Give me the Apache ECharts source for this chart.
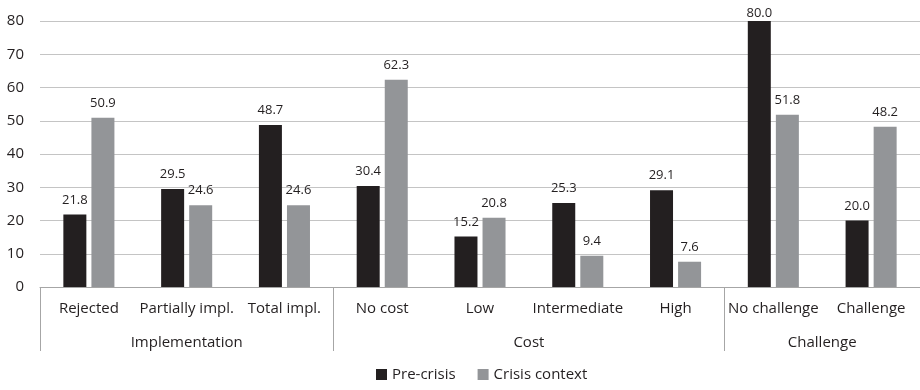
<!DOCTYPE html>
<html>
<head>
<meta charset="utf-8">
<script src="https://cdn.jsdelivr.net/npm/echarts@6/dist/echarts.min.js"></script>
<style>
  html, body { margin: 0; padding: 0; background: #fff; }
  #chart { width: 920px; height: 390px; }
</style>
</head>
<body>
<div id="chart"></div>
<script>
// Sub-categories along the x axis
const categories = ['Rejected', 'Partially impl.', 'Total impl.', 'No cost', 'Low', 'Intermediate', 'High', 'No challenge', 'Challenge'];
// Groups of sub-categories: name, first index, count
const groupNames = ['Implementation', 'Cost', 'Challenge'];
const groupStarts = [0, 3, 7];
const groupSizes = [3, 4, 2];
// Percentages
const preCrisis = [21.8, 29.5, 48.7, 30.4, 15.2, 25.3, 29.1, 80.0, 20.0];
const crisisContext = [50.9, 24.6, 24.6, 62.3, 20.8, 9.4, 7.6, 51.8, 48.2];
// Y axis ticks
const yMin = 0, yMax = 80, yStep = 10;

const FONT = '"Open Sans", "Noto Sans", sans-serif';
const TEXT = '#231f20';

// group boundaries and centres in category units
const boundaries = [0];
const centres = [];
groupStarts.forEach((s, i) => {
  boundaries.push(s + groupSizes[i]);
  centres.push(s + groupSizes[i] / 2);
});

const chart = echarts.init(document.getElementById('chart'), null, { renderer: 'canvas' });

const labelStyle = {
  show: true,
  position: 'top',
  distance: 8,
  color: TEXT,
  fontFamily: FONT,
  fontSize: 13,
  formatter: p => p.value.toFixed(1)
};

// bars reaching the top of the axis get their label tucked closer so it stays on the canvas
const withLabels = arr => arr.map(v => (v >= yMax ? { value: v, label: { distance: 1 } } : v));

chart.setOption({
  animation: false,
  grid: { left: 40, right: -5, top: 21, bottom: 103, containLabel: false },
  legend: {
    bottom: 3,
    left: 371,
    itemWidth: 11,
    itemHeight: 11,
    itemGap: 22,
    icon: 'rect',
    textStyle: { color: TEXT, fontFamily: FONT, fontSize: 15 },
    data: ['Pre-crisis', 'Crisis context']
  },
  xAxis: [
    {
      type: 'category',
      data: categories,
      axisLine: { lineStyle: { color: '#a6a6a6', width: 1 } },
      axisTick: { show: false },
      axisLabel: { color: TEXT, fontFamily: FONT, fontSize: 15, margin: 14, interval: 0 },
      splitLine: { show: false }
    },
    {
      type: 'value',
      position: 'bottom',
      min: 0,
      max: categories.length,
      axisLine: { show: false },
      splitLine: { show: false },
      axisTick: {
        show: true,
        customValues: boundaries,
        length: 64,
        lineStyle: { color: '#a6a6a6', width: 1 }
      },
      axisLabel: {
        show: true,
        customValues: centres,
        margin: 48,
        color: TEXT,
        fontFamily: FONT,
        fontSize: 15,
        formatter: v => {
          const i = centres.findIndex(c => Math.abs(c - v) < 1e-6);
          return i >= 0 ? groupNames[i] : '';
        }
      }
    }
  ],
  yAxis: {
    type: 'value',
    min: yMin,
    max: yMax,
    interval: yStep,
    axisLine: { show: false },
    axisTick: { show: false },
    axisLabel: { color: TEXT, fontFamily: FONT, fontSize: 15, margin: 16 },
    splitLine: { lineStyle: { color: '#c4c4c4', width: 1 } }
  },
  series: [
    {
      name: 'Pre-crisis',
      type: 'bar',
      xAxisIndex: 0,
      data: withLabels(preCrisis),
      barWidth: 23,
      barGap: '22%',
      itemStyle: { color: '#231f20' },
      label: labelStyle
    },
    {
      name: 'Crisis context',
      type: 'bar',
      xAxisIndex: 0,
      data: withLabels(crisisContext),
      barWidth: 23,
      barGap: '22%',
      itemStyle: { color: '#939598' },
      label: labelStyle
    }
  ]
});
</script>
</body>
</html>
